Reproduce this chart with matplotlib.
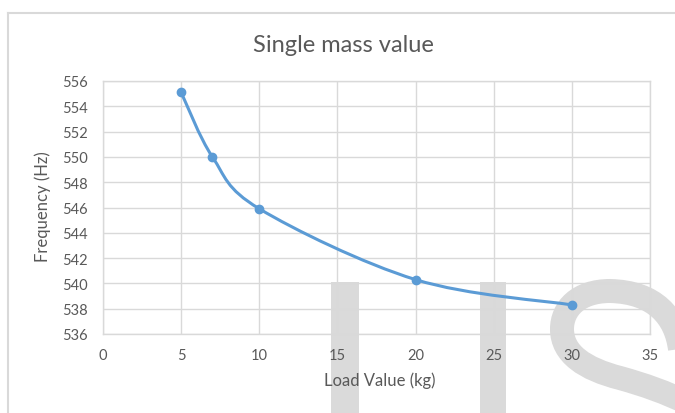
import numpy as np
import matplotlib
matplotlib.use("Agg")
import matplotlib.pyplot as plt
from matplotlib.path import Path
from matplotlib.patches import PathPatch, Rectangle

# Measured frequency against applied load
load_kg = [5, 7, 10, 20, 30]
freq_hz = [555.1, 550.0, 545.9, 540.3, 538.3]

x_ticks = [0, 5, 10, 15, 20, 25, 30, 35]
y_ticks = [536, 538, 540, 542, 544, 546, 548, 550, 552, 554, 556]

title = "Single mass value"
x_label = "Load Value (kg)"
y_label = "Frequency (Hz)"

W, H = 675, 414
DPI = 100
TXT = "#595959"
GRID = "#d9d9d9"
LINE = "#5b9bd5"
WM = "#dadada"

plt.rcParams["font.family"] = ["Lato", "DejaVu Sans"]

fig = plt.figure(figsize=(W / DPI, H / DPI), dpi=DPI)
fig.patch.set_facecolor("white")


def fx(px):
    return px / W


def fy(py):
    return 1 - py / H


AX_L, AX_R, AX_T, AX_B = 103, 650, 82, 335
ax = fig.add_axes([fx(AX_L), fy(AX_B), fx(AX_R) - fx(AX_L), fy(AX_T) - fy(AX_B)])
ax.set_facecolor("none")
ax.set_zorder(1)

ax.set_xlim(0, 35)
ax.set_ylim(536, 556)
ax.set_xticks(x_ticks)
ax.set_yticks(y_ticks)
ax.grid(True, color=GRID, lw=1.0)
ax.set_axisbelow(True)
for s in ax.spines.values():
    s.set_color(GRID)
    s.set_linewidth(1.0)
ax.tick_params(length=0, labelsize=10.5, colors=TXT)
ax.tick_params(axis="y", pad=11)
ax.tick_params(axis="x", pad=10)

# Smooth curve through the points (Catmull-Rom style Bezier segments)
xs = np.asarray(load_kg, float)
ys = np.asarray(freq_hz, float)
pts = np.column_stack([xs, ys])
verts = [tuple(pts[0])]
codes = [Path.MOVETO]
n = len(pts)
for i in range(n - 1):
    p_prev = pts[i - 1] if i > 0 else pts[i]
    p0 = pts[i]
    p1 = pts[i + 1]
    p_next = pts[i + 2] if i + 2 < n else pts[i + 1]
    c1 = p0 + (p1 - p_prev) / 6.0
    c2 = p1 - (p_next - p0) / 6.0
    verts += [tuple(c1), tuple(c2), tuple(p1)]
    codes += [Path.CURVE4] * 3
ax.add_patch(PathPatch(Path(verts, codes), fc="none", ec=LINE, lw=2.2,
                       capstyle="round", joinstyle="round", zorder=3))
ax.plot(load_kg, freq_hz, ls="none", marker="o", ms=6, color=LINE, zorder=4)

fig.text(fx(343), fy(45), title, fontsize=17, color=TXT, ha="center", va="center")

ax_w = AX_R - AX_L
ax_h = AX_B - AX_T
ax.set_xlabel(x_label, fontsize=12, color=TXT)
ax.xaxis.set_label_coords((380 - AX_L) / ax_w, (AX_B - 381) / ax_h)
ax.xaxis.label.set_verticalalignment("center")
ax.set_ylabel(y_label, fontsize=12, color=TXT)
ax.yaxis.set_label_coords((43 - AX_L) / ax_w, (AX_B - 207) / ax_h)
ax.yaxis.label.set_verticalalignment("center")

# Chart frame
fig.add_artist(plt.Line2D([fx(8), 1.01], [fy(14), fy(14)], color="#d9d9d9", lw=1.5,
                          transform=fig.transFigure))
fig.add_artist(plt.Line2D([fx(8), fx(8)], [fy(14), -0.01], color="#d9d9d9", lw=1.5,
                          transform=fig.transFigure))

# Background watermark glyphs
for x0, x1 in [(331, 359), (480, 506)]:
    r = Rectangle((fx(x0), 0), fx(x1) - fx(x0), fy(283), transform=fig.transFigure,
                  fc=WM, ec="none", zorder=-1)
    fig.add_artist(r)

s_px = [(680, 350), (676, 318), (655, 293), (610, 292),
        (578, 292), (562, 310), (562, 330),
        (562, 355), (585, 370), (620, 379),
        (645, 386), (665, 393), (690, 405)]
s_codes = [Path.MOVETO] + [Path.CURVE4] * 12
s_path = Path([(fx(a), fy(b)) for a, b in s_px], s_codes)
fig.add_artist(PathPatch(s_path, transform=fig.transFigure, fc="none", ec=WM,
                         lw=24 * 72 / DPI, capstyle="butt", zorder=-1))

fig.savefig("out.png", dpi=DPI)
